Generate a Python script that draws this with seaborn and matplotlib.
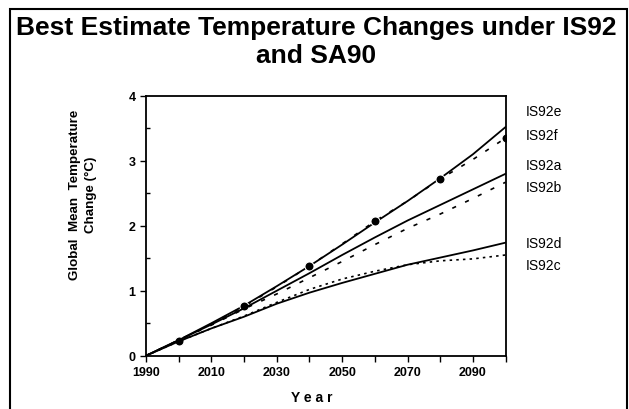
import numpy as np
import pandas as pd
import seaborn as sns
import matplotlib.pyplot as plt
from matplotlib.patches import Rectangle

sns.set_style("ticks")
plt.rcParams["font.family"] = ["Liberation Sans", "DejaVu Sans"]
plt.rcParams["text.color"] = "black"
plt.rcParams["xtick.color"] = "black"
plt.rcParams["ytick.color"] = "black"

# data (°C above 1990)
years = [1990, 2000, 2010, 2020, 2030, 2040, 2050, 2060, 2070, 2080, 2090, 2100]
is92e = [0, 0.24, 0.50, 0.77, 1.07, 1.38, 1.71, 2.05, 2.38, 2.73, 3.10, 3.52]
is92f = [0, 0.23, 0.49, 0.76, 1.06, 1.38, 1.72, 2.07, 2.38, 2.72, 3.02, 3.35]
is92a = [0, 0.24, 0.48, 0.73, 1.00, 1.27, 1.55, 1.82, 2.08, 2.32, 2.56, 2.80]
is92b = [0, 0.24, 0.47, 0.72, 0.95, 1.20, 1.45, 1.71, 1.96, 2.18, 2.42, 2.67]
is92d = [0, 0.22, 0.42, 0.60, 0.80, 0.97, 1.12, 1.26, 1.40, 1.51, 1.62, 1.74]
is92c = [0, 0.22, 0.42, 0.61, 0.82, 1.02, 1.18, 1.30, 1.40, 1.46, 1.49, 1.55]

labels = ["IS92e", "IS92f", "IS92a", "IS92b", "IS92d", "IS92c"]
label_y = [3.77, 3.40, 2.93, 2.59, 1.73, 1.40]

df = pd.DataFrame({"year": years, "IS92e": is92e, "IS92f": is92f, "IS92a": is92a,
                   "IS92b": is92b, "IS92d": is92d, "IS92c": is92c})

fig = plt.figure(figsize=(6.29, 4.10), dpi=100)
ax = fig.add_axes([0.2321, 0.130, 0.5718, 0.634])

lw = 1.3
sns.lineplot(data=df, x="year", y="IS92e", ax=ax, color="black", lw=lw)
sns.lineplot(data=df, x="year", y="IS92f", ax=ax, color="black", lw=1.2,
             linestyle=(0, (2.5, 6)), marker="o", markersize=6.5,
             markevery=slice(1, None, 2))
sns.lineplot(data=df, x="year", y="IS92a", ax=ax, color="black", lw=lw)
sns.lineplot(data=df, x="year", y="IS92b", ax=ax, color="black", lw=1.2,
             linestyle=(0, (2.5, 6)))
sns.lineplot(data=df, x="year", y="IS92d", ax=ax, color="black", lw=lw)
sns.lineplot(data=df, x="year", y="IS92c", ax=ax, color="black", lw=1.2,
             linestyle=(0, (1.5, 2.5)))

ax.set_xlim(1990, 2100)
ax.set_ylim(0, 4)
ax.set_xticks(range(1990, 2100, 20))
ax.set_xticks(range(2000, 2101, 20), minor=True)
ax.set_yticks(range(0, 5))
ax.set_yticks(np.arange(0.5, 4, 1.0), minor=True)
ax.tick_params(axis="both", which="major", labelsize=9, length=4, width=1,
               direction="out", color="black")
ax.tick_params(axis="x", which="minor", length=4, width=1, direction="out")
ax.tick_params(axis="y", which="minor", length=3, width=1, direction="in")
for lab in ax.get_xticklabels() + ax.get_yticklabels():
    lab.set_fontweight("bold")
ax.set_xlabel("")
ax.set_ylabel("")
for sp in ax.spines.values():
    sp.set_visible(True)
    sp.set_linewidth(1.3)
    sp.set_color("black")

for name, yv in zip(labels, label_y):
    ax.text(2106.2, yv, name, fontsize=10, va="center", ha="left", clip_on=False)

fig.text(0.503, 0.898, "Best Estimate Temperature Changes under IS92\nand SA90",
         ha="center", va="center", fontsize=19, fontweight="bold", linespacing=1.2)
fig.text(0.132, 0.524, "Global  Mean  Temperature\nChange (°C)", rotation=90,
         ha="center", va="center", fontsize=9.6, fontweight="bold",
         multialignment="center", linespacing=1.45)
fig.text(0.495, 0.030, "Y e a r", ha="center", va="center", fontsize=10,
         fontweight="bold")

fig.patches.append(Rectangle((0.016, -0.05), 0.981, 1.025, transform=fig.transFigure,
                             fill=False, lw=1.5, edgecolor="black"))

fig.savefig("out.png", dpi=100)
plt.close()
